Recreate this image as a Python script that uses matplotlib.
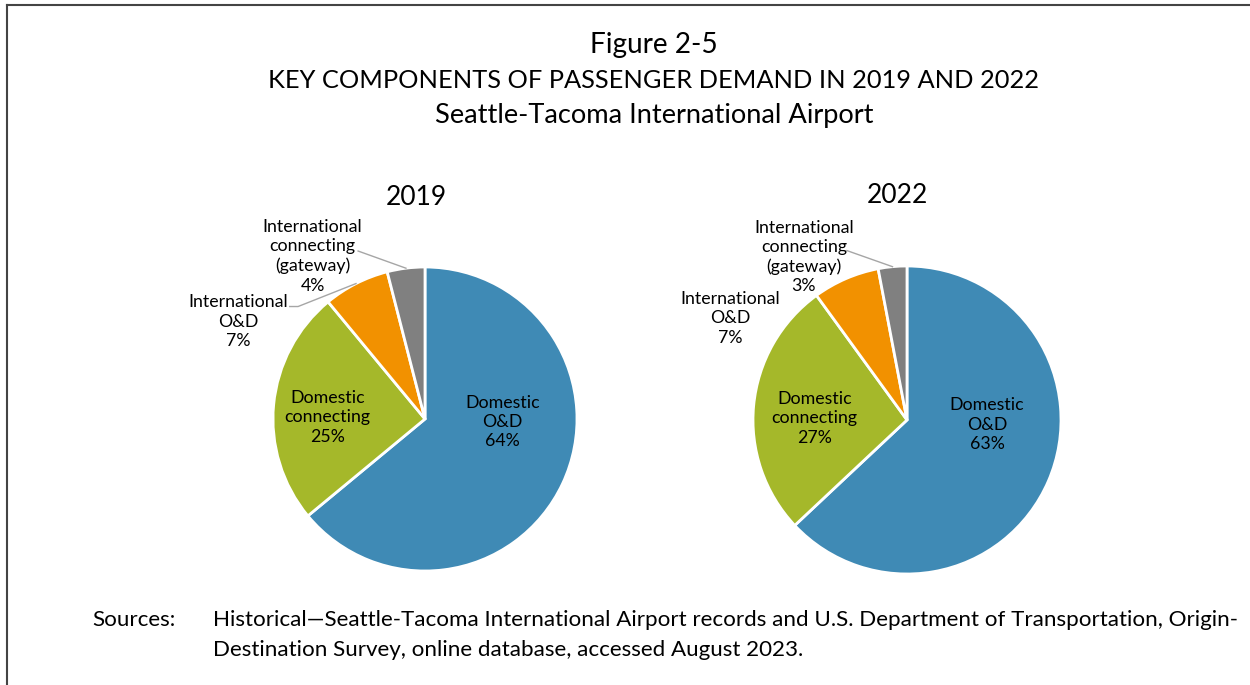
import matplotlib.pyplot as plt
from matplotlib.lines import Line2D
import numpy as np

plt.rcParams["font.family"] = ["Lato", "DejaVu Sans"]

# Shares of passenger demand (%)
segments = ["Domestic O&D", "Domestic connecting", "International O&D",
            "International connecting (gateway)"]
shares_2019 = [64, 25, 7, 4]
shares_2022 = [63, 27, 7, 3]
colors = ["#3F8AB5", "#A5B82A", "#F29100", "#808080"]

W, H = 1250, 685
fig = plt.figure(figsize=(W / 100, H / 100), dpi=100)

# frame lines (left and top)
fig.add_artist(Line2D([7 / W, 7 / W], [0, 1 - 5 / H], color="#444444", lw=1.5))
fig.add_artist(Line2D([7 / W, 1], [1 - 5 / H, 1 - 5 / H], color="#444444", lw=1.5))

fig.text(654 / W, 1 - 45 / H, "Figure 2-5", ha="center", va="center", fontsize=20.2)
fig.text(654 / W, 1 - 80 / H, "KEY COMPONENTS OF PASSENGER DEMAND IN 2019 AND 2022",
         ha="center", va="center", fontsize=18.3)
fig.text(654 / W, 1 - 115 / H, "Seattle-Tacoma International Airport",
         ha="center", va="center", fontsize=19.6)


def draw_pie(cx, cy, r, values, year, lbl):
    half = 1.7 * r
    ax = fig.add_axes([(cx - half) / W, 1 - (cy + half) / H, 2 * half / W, 2 * half / H])
    wedges, _ = ax.pie(values, colors=colors, startangle=90, counterclock=False,
                       wedgeprops=dict(edgecolor="white", linewidth=2))
    ax.set_xlim(-1.7, 1.7)
    ax.set_ylim(-1.7, 1.7)
    ax.set_aspect("equal")
    ax.axis("off")
    ax.text(lbl["year"][0], lbl["year"][1], year, ha="center", va="center", fontsize=19)
    fs = 12.8
    ls = 1.25
    ax.text(*lbl["dod"], "Domestic\nO&D\n%d%%" % values[0], ha="center", va="center",
            fontsize=fs, linespacing=ls)
    ax.text(*lbl["dcon"], "Domestic\nconnecting\n%d%%" % values[1], ha="center",
            va="center", fontsize=fs, linespacing=ls)
    ax.text(*lbl["iod"], "International\nO&D\n%d%%" % values[2], ha="center",
            va="center", fontsize=fs, linespacing=ls)
    ax.text(*lbl["icon"], "International\nconnecting\n(gateway)\n%d%%" % values[3],
            ha="center", va="center", fontsize=fs, linespacing=ls)
    # leader lines to wedge mid-angles
    for idx, key in [(3, "icon_line"), (2, "iod_line")]:
        if key not in lbl:
            continue
        w = wedges[idx]
        mid = np.deg2rad((w.theta1 + w.theta2) / 2)
        end = (np.cos(mid), np.sin(mid))
        pts = lbl[key] + [end]
        ax.plot([p[0] for p in pts], [p[1] for p in pts], color="#A6A6A6", lw=1)


draw_pie(425, 419, 152, shares_2019, "2019", {
    "year": (-0.06, 1.46),
    "dod": (0.51, -0.02),
    "dcon": (-0.64, 0.01),
    "iod": (-1.23, 0.64),
    "icon": (-0.74, 1.07),
    "icon_line": [(-0.44, 1.105)],
    "iod_line": [(-0.89, 0.74), (-0.835, 0.74)],
})
draw_pie(907, 420, 154, shares_2022, "2022", {
    "year": (-0.06, 1.46),
    "dod": (0.52, -0.03),
    "dcon": (-0.60, 0.01),
    "iod": (-1.15, 0.66),
    "icon": (-0.67, 1.06),
    "icon_line": [(-0.39, 1.10)],
})

fs_src = 16.1
fig.text(92 / W, 1 - 620 / H, "Sources:", ha="left", va="center", fontsize=fs_src)
fig.text(213 / W, 1 - 620 / H,
         "Historical\u2014Seattle-Tacoma International Airport records and U.S. "
         "Department of Transportation, Origin-", ha="left", va="center", fontsize=fs_src)
fig.text(213 / W, 1 - 650 / H,
         "Destination Survey, online database, accessed August 2023.",
         ha="left", va="center", fontsize=fs_src)

fig.savefig("out.png", dpi=100)
